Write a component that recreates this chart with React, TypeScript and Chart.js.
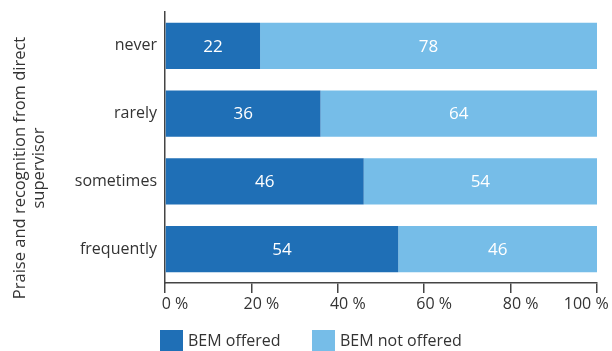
import React, { useEffect, useRef } from "react";
import { Chart, registerables } from "chart.js";

Chart.register(...registerables);

const categories = ["never", "rarely", "sometimes", "frequently"];
const offered = [22, 36, 46, 54];
const notOffered = [78, 64, 54, 46];
const xTicks = [0, 20, 40, 60, 80, 100];
const seriesNames = ["BEM offered", "BEM not offered"];
const axisTitle = ["Praise and recognition from direct", "supervisor"];

const DARK = "#1f6fb6";
const LIGHT = "#76bde8";
const TEXT = "#333333";
const AXIS = "#444444";
const FONT = "'Open Sans', sans-serif";

const extrasPlugin = {
  id: "extras",
  afterDatasetsDraw(chart: any) {
    const ctx = chart.ctx;
    ctx.save();
    ctx.fillStyle = "#ffffff";
    ctx.font = `17px ${FONT}`;
    ctx.textAlign = "center";
    ctx.textBaseline = "middle";
    chart.data.datasets.forEach((ds: any, di: number) => {
      const meta = chart.getDatasetMeta(di);
      meta.data.forEach((bar: any, i: number) => {
        const p = bar.getProps(["x", "y", "base"], true);
        const cx = (p.x + p.base) / 2;
        ctx.fillText(String(ds.data[i]), cx, p.y + 1);
      });
    });
    ctx.restore();
  },
  afterDraw(chart: any) {
    const ctx = chart.ctx;
    ctx.save();
    // axis title
    ctx.fillStyle = TEXT;
    ctx.font = `16.5px ${FONT}`;
    ctx.textAlign = "center";
    ctx.textBaseline = "middle";
    const cy = 168;
    axisTitle.forEach((line, i) => {
      ctx.save();
      ctx.translate(20 + i * 19, cy);
      ctx.rotate(-Math.PI / 2);
      ctx.fillText(line, 0, 0);
      ctx.restore();
    });
    // legend
    ctx.font = `16px ${FONT}`;
    const colors = [DARK, LIGHT];
    const boxX = [160, 312];
    const top = 330;
    ctx.textAlign = "left";
    seriesNames.forEach((name, i) => {
      ctx.fillStyle = colors[i];
      ctx.fillRect(boxX[i], top, 23, 21);
      ctx.fillStyle = TEXT;
      ctx.fillText(name, boxX[i] + 28, top + 11);
    });
    ctx.restore();
  },
};

export default function App() {
  const ref = useRef<HTMLCanvasElement | null>(null);
  useEffect(() => {
    document.body.style.margin = "0";
    const chart = new Chart(ref.current!, {
      type: "bar",
      data: {
        labels: categories,
        datasets: [
          { label: seriesNames[0], data: offered, backgroundColor: DARK, categoryPercentage: 1, barPercentage: 0.68 },
          { label: seriesNames[1], data: notOffered, backgroundColor: LIGHT, categoryPercentage: 1, barPercentage: 0.68 },
        ],
      },
      options: {
        indexAxis: "y",
        animation: false,
        responsive: false,
        layout: { padding: { top: 12, right: 15, bottom: 40, left: 0 } },
        plugins: { legend: { display: false }, tooltip: { enabled: false } },
        scales: {
          x: {
            stacked: true,
            min: 0,
            max: 100,
            afterBuildTicks: (s: any) => { s.ticks = xTicks.map((v) => ({ value: v })); },
            afterFit: (s: any) => { s.height = 28; s.paddingLeft = 0; s.paddingRight = 0; },
            ticks: {
              color: TEXT,
              font: { family: FONT, size: 16 },
              padding: 2,
              maxRotation: 0,
              minRotation: 0,
              autoSkip: false,
              labelOffset: 10,
              callback: (v: any) => (v === 100 ? `${v} %` + "\u00a0".repeat(10) : `${v} %`),
            },
            grid: { display: true, drawOnChartArea: false, drawTicks: true, tickLength: 10, color: AXIS, lineWidth: 1.5 },
            border: { display: true, color: AXIS, width: 1.5 },
          },
          y: {
            stacked: true,
            afterFit: (s: any) => { s.width = 165; s.paddingTop = 0; s.paddingBottom = 0; },
            ticks: { color: TEXT, font: { family: FONT, size: 16 }, padding: 8 },
            grid: { display: true, drawOnChartArea: false, drawTicks: false, tickLength: 0 },
            border: { display: true, color: AXIS, width: 1.5 },
          },
        },
      },
      plugins: [extrasPlugin],
    });
    return () => chart.destroy();
  }, []);
  return (
    <div style={{ position: "fixed", left: 0, top: 0, width: 612, height: 351 }}>
      <canvas ref={ref} width={612} height={351} style={{ width: 612, height: 351 }} />
    </div>
  );
}
